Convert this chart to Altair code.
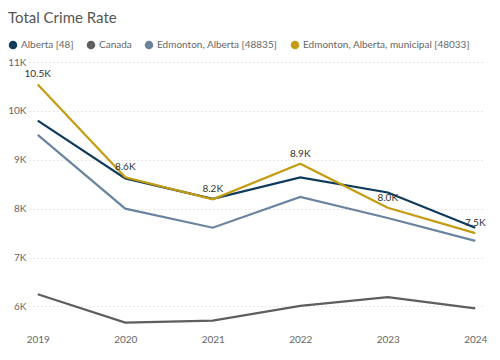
import altair as alt
import pandas as pd

years = ["2019", "2020", "2021", "2022", "2023", "2024"]
series_names = ["Alberta [48]", "Canada", "Edmonton, Alberta [48835]", "Edmonton, Alberta, municipal [48033]"]
alberta = [9800, 8620, 8200, 8640, 8330, 7610]
canada = [6250, 5670, 5710, 6010, 6190, 5960]
edmonton = [9510, 8000, 7610, 8240, 7810, 7340]
municipal = [10540, 8640, 8190, 8920, 8020, 7500]
colors = ["#0E3A5C", "#5E5E5E", "#6A84A0", "#C39C12"]

rows = []
for name, vals in zip(series_names, [alberta, canada, edmonton, municipal]):
    for y, v in zip(years, vals):
        rows.append({"Year": y, "Series": name, "Value": v})
df = pd.DataFrame(rows)
lab = df[df["Series"] == series_names[3]].copy()

font = "Lato"
x = alt.X("Year:O", sort=years, title=None,
          scale=alt.Scale(type="point", padding=0.1),
          axis=alt.Axis(labelAngle=0, domain=False, ticks=False, labelColor="#666",
                        labelFontSize=10, labelFont=font, labelPadding=8))
y = alt.Y("Value:Q", title=None,
          scale=alt.Scale(domain=[5600, 11000], nice=False, zero=False),
          axis=alt.Axis(values=[6000, 7000, 8000, 9000, 10000, 11000], domain=False, ticks=False,
                        labelExpr="datum.value/1000 + 'K'", labelColor="#666", labelFontSize=10,
                        labelFont=font, labelPadding=3, gridColor="#d0d0d0", gridDash=[1, 3]))

lines = alt.Chart(df).mark_line(strokeWidth=2.2).encode(
    x=x, y=y,
    color=alt.Color("Series:N", sort=series_names,
                    scale=alt.Scale(domain=series_names, range=colors),
                    legend=alt.Legend(orient="none", legendX=-21, legendY=-22, direction="horizontal",
                                      title=None, symbolType="circle", symbolSize=16,
                                      symbolStrokeWidth=4.5, labelFontSize=10, labelColor="#666",
                                      labelFont=font, columnPadding=6, labelLimit=400,
                                      labelOffset=3)),
)

labels = alt.Chart(lab).mark_text(dy=-10, fontSize=10, color="#333", font=font).encode(
    x=x, y=y,
    text=alt.Text("label:N"),
).transform_calculate(label="format(datum.Value/1000, '.1f') + 'K'")

chart = (lines + labels).properties(
    width=455, height=264,
    title=alt.TitleParams("Total Crime Rate", anchor="start", frame="group", dx=-21,
                          offset=14, fontSize=15, fontWeight="normal", color="#555", font=font),
    autosize=alt.AutoSizeParams(type="none"),
    padding={"left": 21, "top": 54, "right": 8, "bottom": 24},
).configure_view(stroke=None)

chart.save("out.html", embed_options={"renderer": "svg", "actions": False})
